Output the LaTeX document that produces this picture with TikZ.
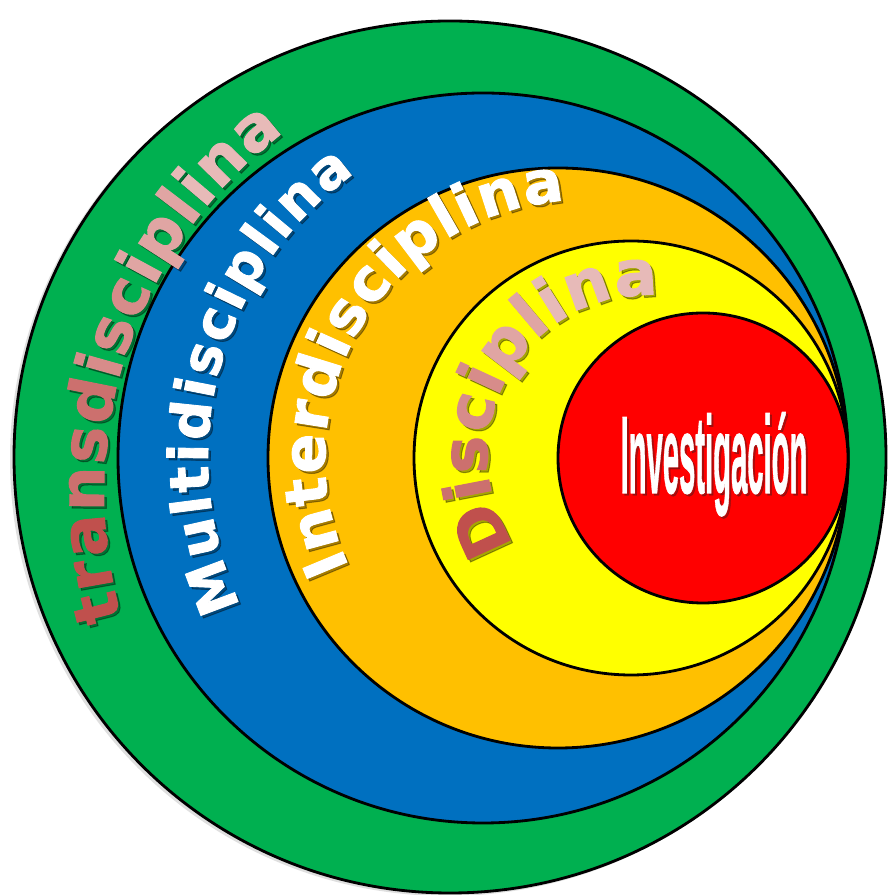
\documentclass[tikz,border=0pt]{standalone}
\usepackage{fontspec}
\usepackage{graphicx}
\usetikzlibrary{decorations.text}

\newfontfamily\arcfont{DejaVu Sans}[BoldFeatures={FakeBold=1.6}]
\newfontfamily\invfont{Liberation Sans}[BoldFeatures={FakeBold=1}]

\definecolor{ringgreen}{RGB}{0,176,80}
\definecolor{ringblue}{RGB}{0,112,192}
\definecolor{ringorange}{RGB}{255,192,0}
\definecolor{ringyellow}{RGB}{255,255,0}
\definecolor{ringred}{RGB}{255,0,0}
\definecolor{rose1}{RGB}{192,80,77}
\definecolor{rose2}{RGB}{204,112,110}
\definecolor{rose3}{RGB}{215,140,138}
\definecolor{rose4}{RGB}{224,165,163}
\definecolor{rose5}{RGB}{231,186,184}
\definecolor{invshadow}{RGB}{120,20,20}

\newcommand\transfmt{\arcfont\bfseries\fontsize{35.5}{35.5}\selectfont}
\newcommand\multifmt{\arcfont\bfseries\fontsize{31}{31}\selectfont}
\newcommand\interfmt{\arcfont\bfseries\fontsize{33.5}{33.5}\selectfont}
\newcommand\discfmt{\arcfont\bfseries\fontsize{36}{36}\selectfont}

\tikzset{
  ring/.style={draw=black, line width=1.6pt},
  arctext/.style={decorate, decoration={text along path, text={#1}, text align=fit to path}},
  invlabel/.style={inner sep=0pt, anchor=base, font=\invfont\bfseries\fontsize{32}{32}\selectfont}
}

\begin{document}
\begin{tikzpicture}[x=0.02cm, y=0.02cm]
\useasboundingbox (0,0) rectangle (891,895);

% rings, outer to inner
\fill[black!25, opacity=.5] (447,436) circle[radius=437];
\draw[ring, fill=ringgreen]  (450,438) circle[radius=436];
\draw[ring, fill=ringblue]   (483,437) circle[radius=365];
\draw[ring, fill=ringorange] (558,437) circle[radius=290];
\draw[ring, fill=ringyellow] (631,437) circle[radius=217];
\draw[ring, fill=ringred]    (703,437) circle[radius=145];

% shadows of the curved labels
\begin{scope}[shift={(2.5,-2.5)}, opacity=.35]
  \path[arctext={|\transfmt|transdisciplina}] (556,402) ++(196:452) arc[start angle=196, end angle=127, radius=452];
  \path[arctext={|\multifmt|Multidisciplina}] (558,437) ++(205:350) arc[start angle=205, end angle=125.5, radius=350];
  \path[arctext={|\interfmt|Interdisciplina}] (583,437) ++(205:258) arc[start angle=205, end angle=94, radius=258];
  \path[arctext={|\discfmt|Disciplina}] (647,440) ++(214:160) arc[start angle=214, end angle=86, radius=160];
\end{scope}

% curved labels
\path[arctext={|\transfmt\color{rose1}|tra|\transfmt\color{rose2}|nsd|\transfmt\color{rose3}|isc|\transfmt\color{rose4}|ipl|\transfmt\color{rose5}|ina}]
  (556,402) ++(196:452) arc[start angle=196, end angle=127, radius=452];
\path[arctext={|\multifmt\color{white}|Multidisciplina}]
  (558,437) ++(205:350) arc[start angle=205, end angle=125.5, radius=350];
\path[arctext={|\interfmt\color{white}|Interdisciplina}]
  (583,437) ++(205:258) arc[start angle=205, end angle=94, radius=258];
\path[arctext={|\discfmt\color{rose1}|D|\discfmt\color{rose2}|is|\discfmt\color{rose3}|ci|\discfmt\color{rose4}|pl|\discfmt\color{rose5}|ina}]
  (647,440) ++(214:160) arc[start angle=214, end angle=86, radius=160];

% centre label
\node[invlabel, text=invshadow, opacity=.6] (invshade) at (716,400) {\scalebox{.52}[1.96]{Investigación}};
\node[invlabel, text=white] (inv) at (714,402) {\scalebox{.52}[1.96]{Investigación}};
\end{tikzpicture}
\end{document}
